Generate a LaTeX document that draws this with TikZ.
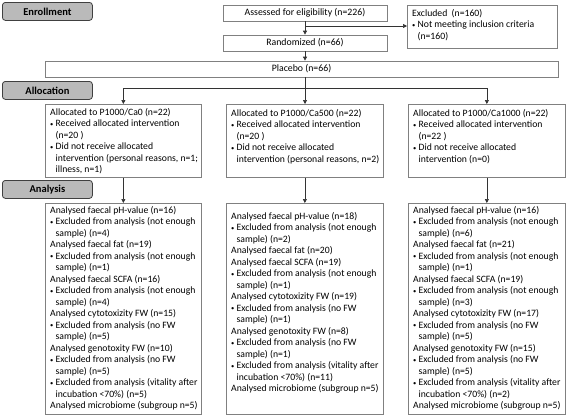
\documentclass[tikz,border=0pt]{standalone}
\usepackage{fontspec}
\setmainfont{Carlito}
\usetikzlibrary{arrows.meta}
\newcommand{\bullit}{\raisebox{0.15ex}{\fontsize{6.5}{6.5}\selectfont\textbullet}\ }
\newcommand{\indt}{\hphantom{\bullit}}
\tikzset{
  box/.style={draw=black!50, line width=0.7pt, inner sep=0pt, anchor=north west},
  lbl/.style={draw=black!75, fill=black!27, rounded corners=3pt, line width=0.8pt, inner sep=0pt,
    minimum width=90pt, minimum height=18pt, anchor=north west, font=\fontsize{10.5}{12}\selectfont\bfseries},
  txt/.style={anchor=north west, align=left, inner sep=0pt, font=\fontsize{9.7}{11.5}\selectfont},
  one/.style={box, anchor=center, font=\fontsize{9.8}{11.5}\selectfont},
  arr/.style={draw=black!80, line width=0.7pt, -{Triangle[length=4pt,width=4pt]}},
  ln/.style={draw=black!80, line width=0.7pt}
}
\begin{document}
\begin{tikzpicture}[x=1pt,y=-1pt]
\useasboundingbox (0,0) rectangle (567,418);
% phase labels
\node[lbl] (enr) at (2,2){Enrollment};
\node[lbl] (all) at (2,81){Allocation};
\node[lbl] (ana) at (2,180){Analysis};
% enrollment
\node[one, minimum width=164pt, minimum height=16pt] (ass) at (305,13){Assessed for eligibility (n=226)};
\node[one, minimum width=164pt, minimum height=16pt] (rand) at (305,43){Randomized (n=66)};
\node[box, minimum width=150pt, minimum height=43pt] (excl) at (407,5){};
\node[txt] (exclt) at (412,9){Excluded\ \ (n=160)\\\bullit Not meeting inclusion criteria\\\indt(n=160)};
\node[one, minimum width=513pt, minimum height=16pt] (plac) at (301.5,69){Placebo (n=66)};
\coordinate (br) at (305,26);
\coordinate (split) at (305,88);
\draw[arr] (ass) -- (rand);
\draw[arr] (br) -- (br -| excl.west);
\draw[arr] (rand) -- (rand |- plac.north);
% allocation
\node[box, minimum width=156pt, minimum height=73pt] (al1) at (45,104){};
\node[box, minimum width=157pt, minimum height=73pt] (al2) at (226,104){};
\node[box, minimum width=157pt, minimum height=73pt] (al3) at (408,104){};
\node[txt] (al1t) at (50,108){Allocated to P1000/Ca0 (n=22)\\\bullit Received allocated intervention\\\indt(n=20 )\\\bullit Did not receive allocated\\\indt intervention (personal reasons, n=1;\\\indt illness, n=1)};
\node[txt] (al2t) at (231,109){Allocated to P1000/Ca500 (n=22)\\\bullit Received allocated intervention\\\indt(n=20 )\\\bullit Did not receive allocated\\\indt intervention (personal reasons, n=2)};
\node[txt] (al3t) at (413,109){Allocated to P1000/Ca1000 (n=22)\\\bullit Received allocated intervention\\\indt(n=22 )\\\bullit Did not receive allocated\\\indt intervention (n=0)};
\draw[ln] (plac.south -| split) -- (split);
\draw[arr] (split) -| (al1.north);
\draw[arr] (split) -- (split |- al2.north);
\draw[arr] (split) -| (al3.north);
% analysis
\node[box, minimum width=156pt, minimum height=211pt] (an1) at (45,203){};
\node[box, minimum width=157pt, minimum height=211pt] (an2) at (226,203){};
\node[box, minimum width=157pt, minimum height=211pt] (an3) at (408,203){};
\node[txt] (an1t) at (50,206){Analysed faecal pH-value (n=16)\\\bullit Excluded from analysis (not enough\\\indt sample) (n=4)\\Analysed faecal fat (n=19)\\\bullit Excluded from analysis (not enough\\\indt sample) (n=1)\\Analysed faecal SCFA (n=16)\\\bullit Excluded from analysis (not enough\\\indt sample) (n=4)\\Analysed cytotoxizity FW (n=15)\\\bullit Excluded from analysis (no FW\\\indt sample) (n=5)\\Analysed genotoxity FW (n=10)\\\bullit Excluded from analysis (no FW\\\indt sample) (n=5)\\\bullit Excluded from analysis (vitality after\\\indt incubation <70\%) (n=5)\\Analysed microbiome (subgroup n=5)};
\node[txt] (an2t) at (231,212){Analysed faecal pH-value (n=18)\\\bullit Excluded from analysis (not enough\\\indt sample) (n=2)\\Analysed faecal fat (n=20)\\Analysed faecal SCFA (n=19)\\\bullit Excluded from analysis (not enough\\\indt sample) (n=1)\\Analysed cytotoxizity FW (n=19)\\\bullit Excluded from analysis (no FW\\\indt sample) (n=1)\\Analysed genotoxity FW (n=8)\\\bullit Excluded from analysis (no FW\\\indt sample) (n=1)\\\bullit Excluded from analysis (vitality after\\\indt incubation <70\%) (n=11)\\Analysed microbiome (subgroup n=5)};
\node[txt] (an3t) at (413,206){Analysed faecal pH-value (n=16)\\\bullit Excluded from analysis (not enough\\\indt sample) (n=6)\\Analysed faecal fat (n=21)\\\bullit Excluded from analysis (not enough\\\indt sample) (n=1)\\Analysed faecal SCFA (n=19)\\\bullit Excluded from analysis (not enough\\\indt sample) (n=3)\\Analysed cytotoxizity FW (n=17)\\\bullit Excluded from analysis (no FW\\\indt sample) (n=5)\\Analysed genotoxity FW (n=15)\\\bullit Excluded from analysis (no FW\\\indt sample) (n=5)\\\bullit Excluded from analysis (vitality after\\\indt incubation <70\%) (n=2)\\Analysed microbiome (subgroup n=5)};
\draw[arr] (al1) -- (an1);
\draw[arr] (al2) -- (an2);
\draw[arr] (al3) -- (an3);
\end{tikzpicture}
\end{document}
